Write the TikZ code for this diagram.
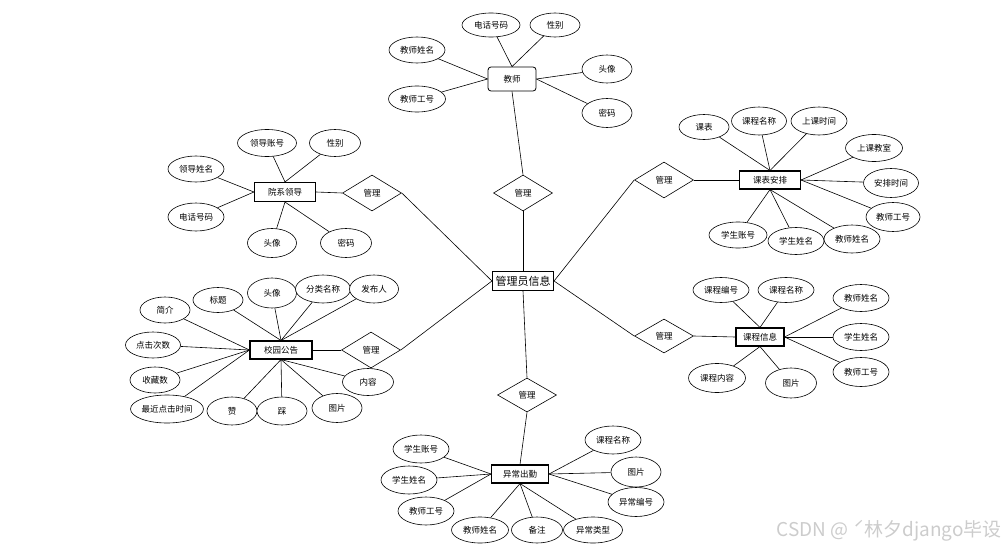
\documentclass[tikz,border=0pt]{standalone}
\usepackage{fontspec}
\setmainfont{Noto Sans CJK SC}
\usetikzlibrary{shapes.geometric}
\begin{document}
\begin{tikzpicture}[x=1pt,y=-1pt,font=\fontsize{8.5}{10}\selectfont,
  attr/.style={ellipse,draw,line width=0.6pt,fill=white,inner sep=0pt,minimum height=26pt},
  ent/.style={rectangle,draw,line width=1.1pt,fill=white,inner sep=0pt,minimum height=18pt},
  rel/.style={diamond,draw,line width=0.6pt,fill=white,inner sep=0pt,minimum width=59pt,minimum height=36pt},
  lk/.style={line width=0.6pt}]
\useasboundingbox (0,0) rectangle (1006,551);
% center
\node[ent,minimum width=61pt,minimum height=19pt,font=\fontsize{11}{12}\selectfont] (C) at (523,281) {管理员信息};
% teacher
\node[ent,rounded corners=3pt,minimum width=48pt,minimum height=24pt,line width=0.8pt] (T) at (512,79) {教师};
\node[attr,minimum width=58pt,minimum height=24pt] (T1) at (491,25) {电话号码};
\node[attr,minimum width=50pt,minimum height=24pt] (T2) at (555,25) {性别};
\node[attr,minimum width=56pt] (T3) at (417,50) {教师姓名};
\node[attr,minimum width=57pt] (T4) at (417,99) {教师工号};
\node[attr,minimum width=50pt,minimum height=28pt] (T5) at (607,69) {头像};
\node[attr,minimum width=50pt,minimum height=29pt] (T6) at (607,113) {密码};
\node[rel] (RT) at (523,193) {管理};
\draw[lk] (T1) -- (T.north);
\draw[lk] (T2) -- (T.north);
\draw[lk] (T3) -- (T.west);
\draw[lk] (T4) -- (T.west);
\draw[lk] (T5) -- (T.east);
\draw[lk] (T6) -- (T.east);
\draw[lk] (T.south) -- (RT.north);
\draw[lk] (RT.south) -- (C.north);
% leaders
\node[ent,minimum width=61pt,minimum height=19pt] (L) at (285,192) {院系领导};
\node[attr,minimum width=59pt,minimum height=27pt] (L1) at (267,143) {领导账号};
\node[attr,minimum width=51pt,minimum height=27pt] (L2) at (335,143) {性别};
\node[attr,minimum width=56pt] (L3) at (196,169) {领导姓名};
\node[attr,minimum width=56pt,minimum height=28pt] (L4) at (196,217) {电话号码};
\node[attr,minimum width=49pt,minimum height=29pt] (L5) at (272,243) {头像};
\node[attr,minimum width=51pt,minimum height=29pt] (L6) at (346,243) {密码};
\node[rel] (RL) at (372,193) {管理};
\draw[lk] (L1) -- (L.north);
\draw[lk] (L2) -- (L.north);
\draw[lk] (L3) -- (L.west);
\draw[lk] (L4) -- (L.west);
\draw[lk] (L5) -- (L.south);
\draw[lk] (L6) -- (L.south);
\draw[lk] (L.east) -- (RL.west);
\draw[lk] (RL.east) -- (C.west);
% schedule
\node[ent,minimum width=61pt] (K) at (770,180) {课表安排};
\node[attr,minimum width=50pt,minimum height=25pt] (K1) at (704,127) {课表};
\node[attr,minimum width=55pt,minimum height=28pt] (K2) at (759,121) {课程名称};
\node[attr,minimum width=56pt,minimum height=28pt] (K3) at (819,121) {上课时间};
\node[attr,minimum width=57pt,minimum height=27pt] (K4) at (874,148) {上课教室};
\node[attr,minimum width=55pt,minimum height=29pt] (K5) at (891,183) {安排时间};
\node[attr,minimum width=54pt,minimum height=29pt] (K6) at (893,217) {教师工号};
\node[attr,minimum width=58pt] (K7) at (738,235) {学生账号};
\node[attr,minimum width=56pt,minimum height=27pt] (K8) at (796,241) {学生姓名};
\node[attr,minimum width=56pt,minimum height=28pt] (K9) at (852,239) {教师姓名};
\node[rel] (RK) at (664,180) {管理};
\draw[lk] (K1) -- (K.north);
\draw[lk] (K2) -- (K.north);
\draw[lk] (K3) -- (K.north);
\draw[lk] (K4) -- (K.east);
\draw[lk] (K5) -- (K.east);
\draw[lk] (K6) -- (K.east);
\draw[lk] (K7) -- (K.south);
\draw[lk] (K8) -- (K.south);
\draw[lk] (K9) -- (K.south);
\draw[lk] (RK.east) -- (K.west);
\draw[lk] (C.east) -- (RK.west);
% notice
\node[ent,minimum width=62pt] (G) at (281,350) {校园公告};
\node[attr,minimum width=50pt] (G1) at (165,310) {简介};
\node[attr,minimum width=50pt,minimum height=25pt] (G2) at (218,300) {标题};
\node[attr,minimum width=49pt,minimum height=30pt] (G3) at (272,293) {头像};
\node[attr,minimum width=55pt,minimum height=28pt] (G4) at (323,289) {分类名称};
\node[attr,minimum width=49pt,minimum height=28pt] (G5) at (374,289) {发布人};
\node[attr,minimum width=55pt] (G6) at (153,345) {点击次数};
\node[attr,minimum width=50pt] (G7) at (155,380) {收藏数};
\node[attr,minimum width=73pt,minimum height=28pt] (G8) at (167,409) {最近点击时间};
\node[attr,minimum width=50pt,minimum height=28pt] (G9) at (232,411) {赞};
\node[attr,minimum width=50pt,minimum height=28pt] (G10) at (282,411) {踩};
\node[attr,minimum width=50pt,minimum height=29pt] (G11) at (337,408) {图片};
\node[attr,minimum width=51pt,minimum height=27pt] (G12) at (368,382) {内容};
\node[rel] (RG) at (371,350) {管理};
\draw[lk] (G1) -- (G.west);
\draw[lk] (G6) -- (G.west);
\draw[lk] (G7) -- (G.west);
\draw[lk] (G8) -- (G.west);
\draw[lk] (G2) -- (G.north);
\draw[lk] (G3) -- (G.north);
\draw[lk] (G4) -- (G.north);
\draw[lk] (G5) -- (G.north);
\draw[lk] (G9) -- (G.south);
\draw[lk] (G10) -- (G.south);
\draw[lk] (G11) -- (G.south);
\draw[lk] (G12) -- (G.south);
\draw[lk] (G.east) -- (RG.west);
\draw[lk] (RG.east) -- (C.west);
% course
\node[ent,minimum width=48pt] (X) at (760,337) {课程信息};
\node[attr,minimum width=56pt,minimum height=25pt] (X1) at (721,290) {课程编号};
\node[attr,minimum width=56pt,minimum height=25pt] (X2) at (786,290) {课程名称};
\node[attr,minimum width=56pt,minimum height=27pt] (X3) at (861,298) {教师姓名};
\node[attr,minimum width=56pt,minimum height=27pt] (X4) at (861,337) {学生姓名};
\node[attr,minimum width=56pt,minimum height=29pt] (X5) at (861,372) {教师工号};
\node[attr,minimum width=57pt,minimum height=29pt] (X6) at (717,378) {课程内容};
\node[attr,minimum width=51pt,minimum height=30pt] (X7) at (791,383) {图片};
\node[rel,minimum height=34pt] (RX) at (664,336) {管理};
\draw[lk] (X1) -- (X.north);
\draw[lk] (X2) -- (X.north);
\draw[lk] (X3) -- (X.east);
\draw[lk] (X4) -- (X.east);
\draw[lk] (X5) -- (X.east);
\draw[lk] (X6) -- (X.south);
\draw[lk] (X7) -- (X.south);
\draw[lk] (C.east) -- (RX.west);
\draw[lk] (RX.east) -- (X.west);
% abnormal attendance
\node[ent,minimum width=57pt] (Y) at (520,474) {异常出勤};
\node[rel,minimum height=34pt] (RY) at (527,395) {管理};
\node[attr,minimum width=56pt,minimum height=28pt] (Y1) at (421,449) {学生账号};
\node[attr,minimum width=56pt,minimum height=28pt] (Y2) at (409,480) {学生姓名};
\node[attr,minimum width=56pt,minimum height=28pt] (Y3) at (426,511) {教师工号};
\node[attr,minimum width=57pt] (Y4) at (480,530) {教师姓名};
\node[attr,minimum width=51pt] (Y5) at (537,530) {备注};
\node[attr,minimum width=59pt] (Y6) at (593,530) {异常类型};
\node[attr,minimum width=56pt,minimum height=28pt] (Y7) at (613,440) {课程名称};
\node[attr,minimum width=50pt,minimum height=30pt] (Y8) at (636,472) {图片};
\node[attr,minimum width=56pt,minimum height=29pt] (Y9) at (636,502) {异常编号};
\draw[lk] (C.south) -- (RY.north);
\draw[lk] (RY.south) -- (Y.north);
\draw[lk] (Y1) -- (Y.west);
\draw[lk] (Y2) -- (Y.west);
\draw[lk] (Y3) -- (Y.west);
\draw[lk] (Y4) -- (Y.south);
\draw[lk] (Y5) -- (Y.south);
\draw[lk] (Y6) -- (Y.south);
\draw[lk] (Y7) -- (Y.east);
\draw[lk] (Y8) -- (Y.east);
\draw[lk] (Y9) -- (Y.east);
% watermark
\node[text=black!20,font=\fontsize{19}{20}\selectfont,anchor=east,inner sep=0pt] (W) at (1002,531) {CSDN @ ˊ林夕django毕设};
\end{tikzpicture}
\end{document}
